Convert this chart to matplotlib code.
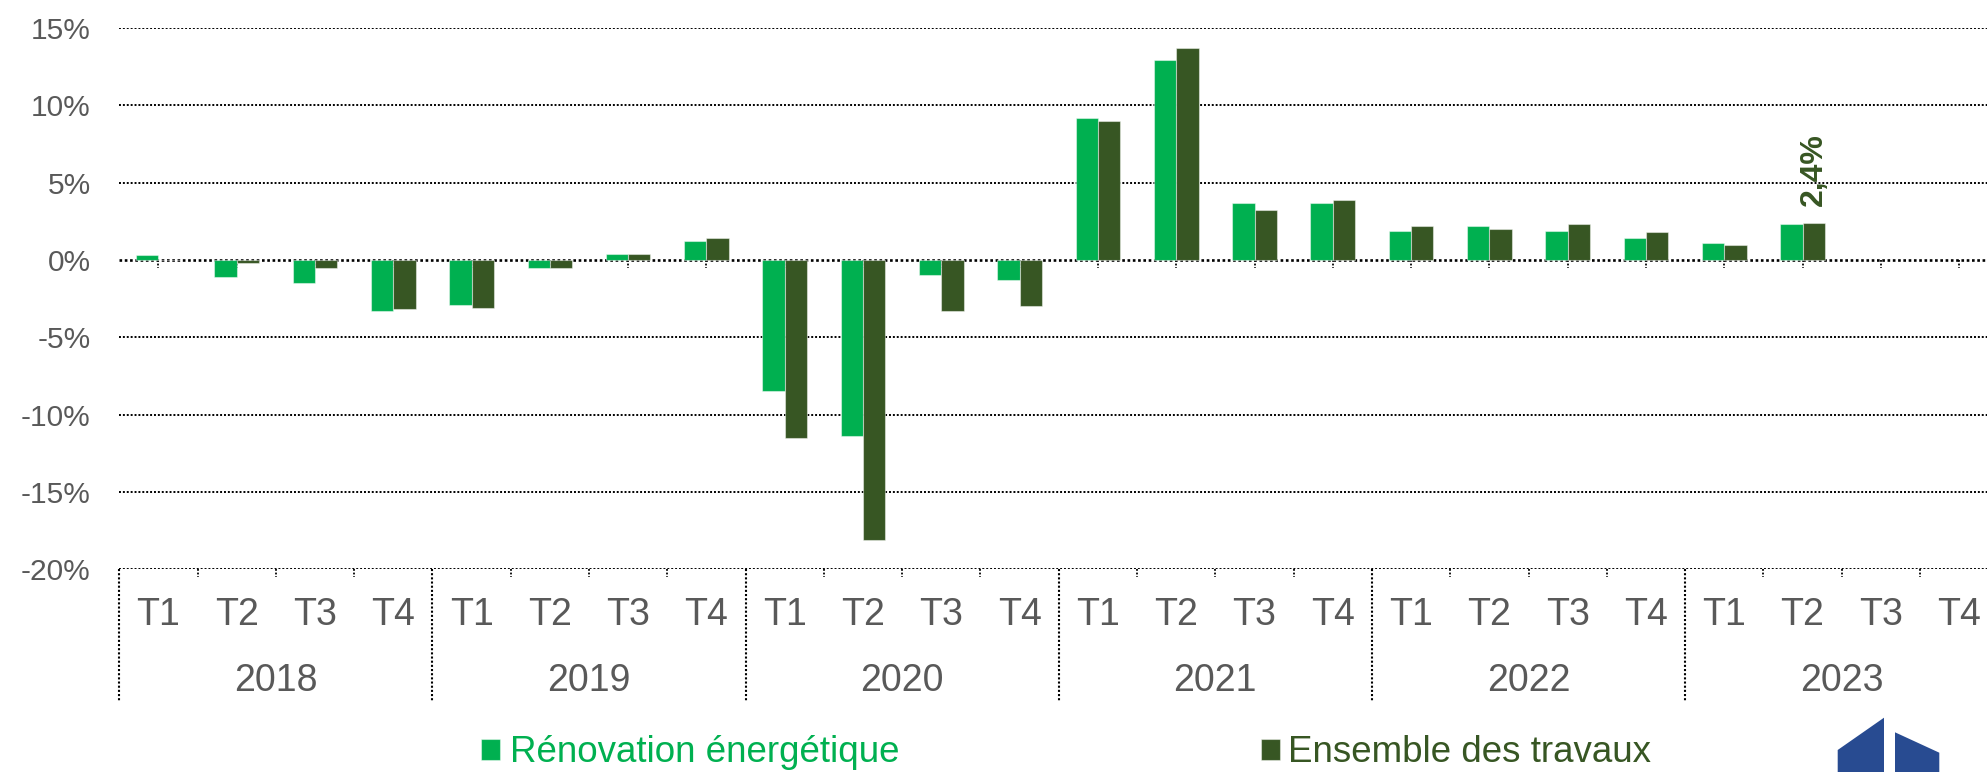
import matplotlib
matplotlib.use("Agg")
import matplotlib.pyplot as plt
import matplotlib.patches as mpatches
import matplotlib.transforms as mtransforms
import numpy as np

plt.rcParams['font.family'] = ['Liberation Sans', 'DejaVu Sans']

# ---- data ----
years = ["2018", "2019", "2020", "2021", "2022", "2023"]
quarters = ["T1", "T2", "T3", "T4"]
renovation = [0.3, -1.1, -1.5, -3.3,
              -2.9, -0.5, 0.4, 1.2,
              -8.5, -11.4, -1.0, -1.3,
              9.2, 12.9, 3.7, 3.7,
              1.9, 2.2, 1.9, 1.4,
              1.1, 2.3, np.nan, np.nan]
ensemble = [0.0, -0.2, -0.5, -3.2,
            -3.1, -0.5, 0.4, 1.4,
            -11.5, -18.1, -3.3, -3.0,
            9.0, 13.7, 3.2, 3.9,
            2.2, 2.0, 2.3, 1.8,
            1.0, 2.4, np.nan, np.nan]
series_names = ["Rénovation énergétique", "Ensemble des travaux"]
annot_index = 21
annot_text = "2,4%"
yticks = [-20, -15, -10, -5, 0, 5, 10, 15]

# ---- style ----
c_green = "#00B050"
c_dark = "#375623"
c_text = "#595959"
dot = (0, (1, 1))

W, H = 1987, 772
fig = plt.figure(figsize=(W / 100, H / 100), dpi=100)
ax_left = 119.3 / W
ax_w = (24 * 78.29) / W
ax_bottom = 1 - 569.3 / H
ax_top = 1 - 28.0 / H
ax = fig.add_axes([ax_left, ax_bottom, ax_w, ax_top - ax_bottom])
ax_h_px = 541.3

n = len(renovation)
x = np.arange(n)
bw = 0.285
b1 = ax.bar(x - bw / 2, renovation, bw, color=c_green, edgecolor=(1, 1, 1, 0.45),
            linewidth=0.8, label=series_names[0], zorder=3)
b2 = ax.bar(x + bw / 2, ensemble, bw, color=c_dark, edgecolor=(1, 1, 1, 0.45),
            linewidth=0.8, label=series_names[1], zorder=3)

ax.set_xlim(-0.5, n - 0.5)
ax.set_ylim(min(yticks), max(yticks))
ax.set_yticks(yticks)
ax.set_yticklabels([f"{v}%" for v in yticks])
ax.tick_params(axis='y', length=0, pad=20.5, labelsize=21.5, labelcolor=c_text)
ax.set_xticks([])
for s in ax.spines.values():
    s.set_visible(False)

# dotted horizontal grid lines
for v in yticks:
    lw = 1.9 if v == 0 else 1.4
    ax.axhline(v, color="black", linestyle=dot, linewidth=lw, zorder=2)

blend = mtransforms.blended_transform_factory(ax.transData, ax.transAxes)
tick_len = 8 / ax_h_px

# small ticks under zero line at category centres
zero_frac = (0 - min(yticks)) / (max(yticks) - min(yticks))
for xi in x:
    ax.plot([xi, xi], [zero_frac, zero_frac - tick_len], transform=blend,
            color="black", linestyle=dot, linewidth=1.3, zorder=2, clip_on=False)

# category axis at bottom
for b in range(1, n):
    if b % 4 == 0:
        continue
    xb = b - 0.5
    ax.plot([xb, xb], [0, -tick_len], transform=blend, color="black",
            linestyle=dot, linewidth=1.3, clip_on=False)
for yi in range(len(years) + 1):
    xb = yi * 4 - 0.5
    ax.plot([xb, xb], [0, -(701 - 569.3) / ax_h_px], transform=blend, color="black",
            linestyle=dot, linewidth=1.5, clip_on=False)

q_base = -(625 - 569.3) / ax_h_px
y_base = -(690.7 - 569.3) / ax_h_px
for i in range(n):
    ax.text(x[i], q_base, quarters[i % 4], transform=blend, ha="center",
            va="baseline", fontsize=27, color=c_text)
for yi, yr in enumerate(years):
    ax.text(yi * 4 + 1.5, y_base, yr, transform=blend, ha="center",
            va="baseline", fontsize=27, color=c_text)

# annotation on last value
ax.annotate(annot_text, xy=(x[annot_index] + bw / 2, ensemble[annot_index]),
            xytext=(0, 12), textcoords="offset points", rotation=90,
            ha="center", va="bottom", fontsize=23, fontweight="bold",
            color=c_dark, zorder=4)

# legend (two entries placed as in the reference)
leg_y = 1 - 753.0 / H
common = dict(loc="center left", frameon=False, fontsize=26.5, handlelength=0.52,
              handleheight=0.52, borderpad=0, borderaxespad=0)
fig.legend([b1], [series_names[0]], bbox_to_anchor=(481 / W, leg_y),
           handletextpad=0.27, labelcolor=[c_green], **common)
fig.legend([b2], [series_names[1]], bbox_to_anchor=(1261 / W, leg_y),
           handletextpad=0.2, labelcolor=[c_dark], **common)

# logo
def fp(px, py):
    return (px / W, 1 - py / H)

logo_c = "#284B91"
left_shape = [fp(1837.7, 750), fp(1884, 717.7), fp(1884, 780), fp(1837.7, 780)]
right_shape = [fp(1895, 732.3), fp(1939.3, 752.7), fp(1939.3, 780), fp(1895, 780)]
for pts in (left_shape, right_shape):
    fig.patches.append(mpatches.Polygon(pts, closed=True, transform=fig.transFigure,
                                        facecolor=logo_c, edgecolor="none"))

fig.savefig("out.png", dpi=100)
